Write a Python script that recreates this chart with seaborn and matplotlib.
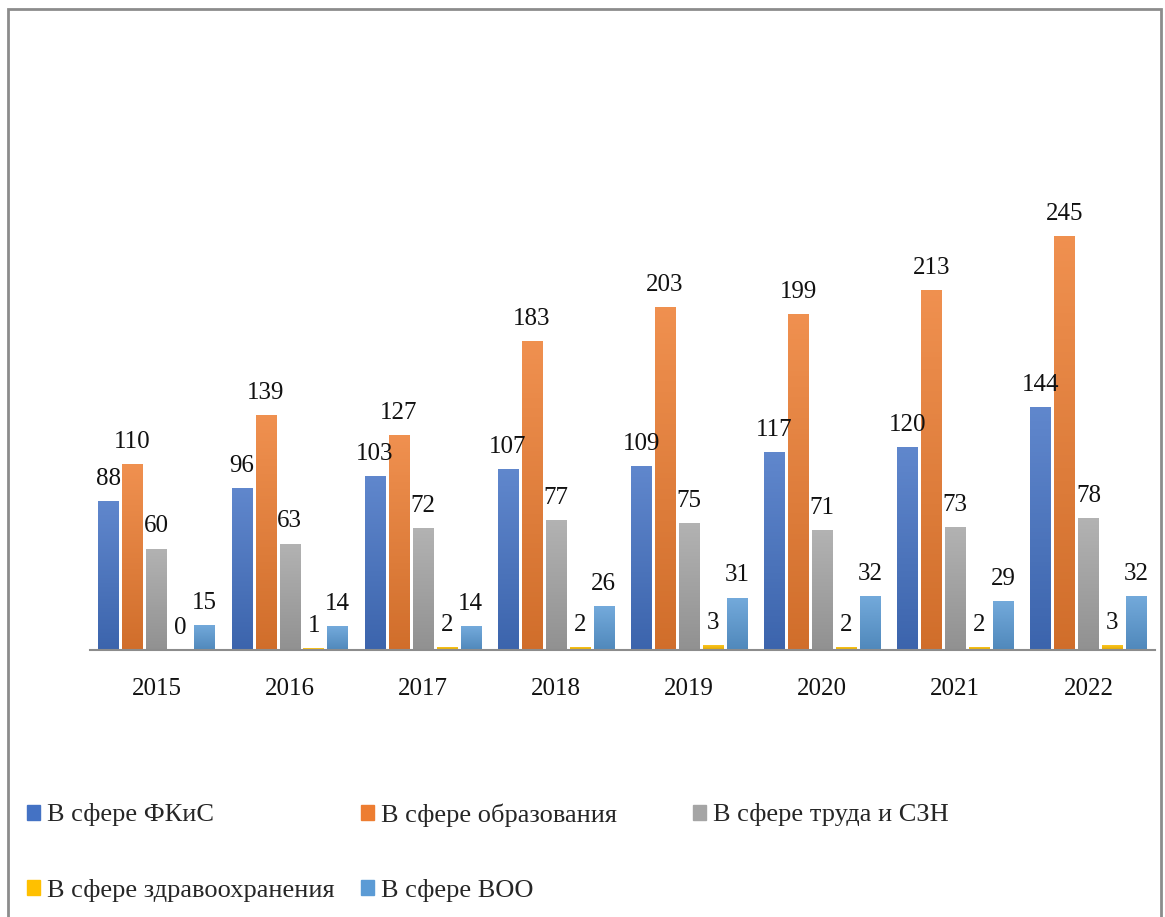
import numpy as np
import pandas as pd
import matplotlib.pyplot as plt
import matplotlib.colors as mcolors
from matplotlib.patches import Rectangle
import seaborn as sns

years = ["2015", "2016", "2017", "2018", "2019", "2020", "2021", "2022"]
series = ["В сфере ФКиС", "В сфере образования", "В сфере труда и СЗН",
          "В сфере здравоохранения", "В сфере ВОО"]
fkis = [88, 96, 103, 107, 109, 117, 120, 144]
obraz = [110, 139, 127, 183, 203, 199, 213, 245]
trud = [60, 63, 72, 77, 75, 71, 73, 78]
zdrav = [0, 1, 2, 2, 3, 2, 2, 3]
voo = [15, 14, 14, 26, 31, 32, 29, 32]
colors = ["#4472C4", "#ED7D31", "#A5A5A5", "#FFC000", "#5B9BD5"]

values = [fkis, obraz, trud, zdrav, voo]
df = pd.DataFrame({
    "year": years * len(series),
    "series": [s for s in series for _ in years],
    "value": [v for vals in values for v in vals],
})

sns.set_style("white")
plt.rcParams["font.family"] = ["Liberation Serif", "DejaVu Serif"]

W, H = 1165, 917
fig = plt.figure(figsize=(W / 100, H / 100), dpi=100)
ax = fig.add_axes([90 / W, 1 - 650 / H, 1065 / W, 507 / H])

sns.barplot(data=df, x="year", y="value", hue="series", palette=colors,
            width=0.9, gap=0.15, ax=ax, legend=False, saturation=1)


def shade(c, f):
    r = np.array(mcolors.to_rgb(c))
    if f > 0:
        return r + (1 - r) * f
    return r * (1 + f)


# gradient fill: lighter top, darker bottom
for cont, col in zip(ax.containers, colors):
    top, bot = shade(col, 0.15), shade(col, -0.12)
    grad = np.linspace(0, 1, 64)[:, None, None]
    img = top * (1 - grad) + bot * grad
    for p in cont.patches:
        x0, y0 = p.get_x(), p.get_y()
        w, h = p.get_width(), p.get_height()
        if h <= 0:
            continue
        im = ax.imshow(img, extent=[x0, x0 + w, y0, y0 + h], aspect="auto",
                       origin="upper", zorder=p.get_zorder() + 0.1)
        im.set_clip_path(p)
    ax.bar_label(cont, padding=8, fontsize=18, color="#111111")

ax.set_xlim(-0.5, len(years) - 0.5)
ax.set_ylim(0, 300)
ax.set_xlabel("")
ax.set_ylabel("")
ax.set_yticks([])
for s in ["left", "right", "top"]:
    ax.spines[s].set_visible(False)
ax.spines["bottom"].set_color("#8c8c8c")
ax.spines["bottom"].set_linewidth(1.5)
ax.set_xticks(np.arange(-0.5, len(years)), minor=True)
ax.tick_params(axis="x", which="minor", length=6, width=1.5, color="#8c8c8c", direction="out")
ax.tick_params(axis="x", which="major", length=0, pad=20, labelsize=18, labelcolor="#111111")
ax.patch.set_alpha(0)

# legend entries placed like the Excel layout (3 + 2)
leg_pos = [(27, 815), (361, 815), (693, 815), (27, 890), (361, 890)]
for name, col, (px, py) in zip(series, colors, leg_pos):
    fig.legend([Rectangle((0, 0), 1, 1, color=col)], [name],
               loc="center left", bbox_to_anchor=(px / W, 1 - py / H),
               frameon=False, fontsize=19, handlelength=0.5,
               handleheight=0.5, handletextpad=0.25,
               borderpad=0, borderaxespad=0)

fig.patches.append(Rectangle((8 / W, -0.05), 1153 / W, 1.05 - 9 / H,
                             transform=fig.transFigure, fill=False,
                             edgecolor="#8c8c8c", linewidth=2))

fig.savefig("out.png", dpi=100)
